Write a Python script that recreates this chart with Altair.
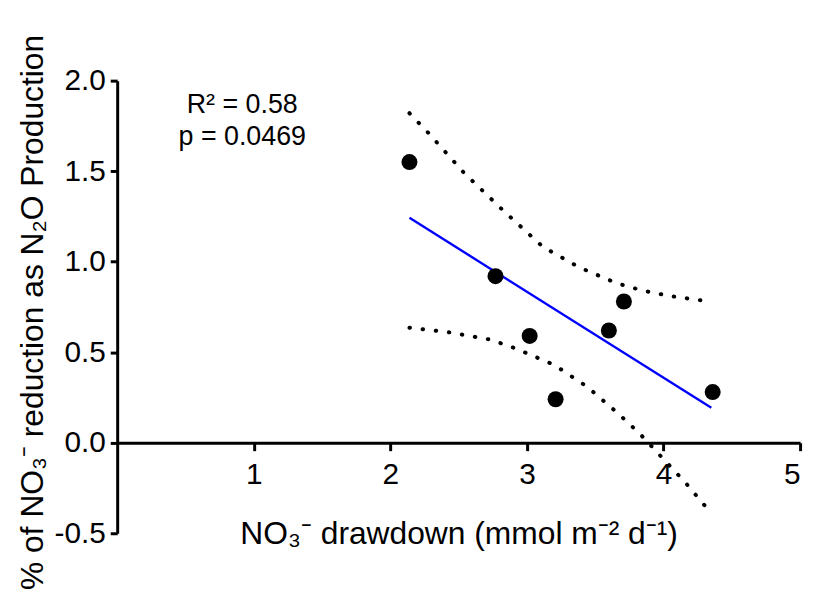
import altair as alt
import pandas as pd

# Observed points
x_vals = [2.14, 2.77, 3.02, 3.21, 3.60, 3.71, 4.36]
y_vals = [1.55, 0.92, 0.59, 0.24, 0.62, 0.78, 0.28]

# 95% confidence band
upper_x = [2.14, 2.28, 2.54, 2.83, 3.12, 3.38, 3.66, 3.85, 4.05, 4.34]
upper_y = [1.82, 1.71, 1.49, 1.28, 1.08, 0.97, 0.88, 0.84, 0.81, 0.78]
lower_x = [2.14, 2.43, 2.73, 2.92, 3.20, 3.44, 3.67, 3.82, 3.95, 4.16, 4.35]
lower_y = [0.635, 0.61, 0.57, 0.52, 0.43, 0.31, 0.16, 0.055, -0.05, -0.22, -0.39]

fit_extent = [2.14, 4.35]
annot_r2 = "R\u00b2 = 0.58"
annot_p = "p = 0.0469"
x_ticks = [1, 2, 3, 4, 5]
y_ticks = [-0.5, 0.0, 0.5, 1.0, 1.5, 2.0]

x_title = "NO\u2083\u207b drawdown (mmol m\u207b\u00b2 d\u207b\u00b9)"
y_title = "% of NO\u2083\u207b reduction as N\u2082O Production"

FONT = "Liberation Sans"
W, H = 688, 456

pts = pd.DataFrame({"x": x_vals, "y": y_vals})
up = pd.DataFrame({"x": upper_x, "y": upper_y})
lo = pd.DataFrame({"x": lower_x, "y": lower_y})

xs = alt.Scale(domain=[0, 5], nice=False, zero=False)
ys = alt.Scale(domain=[-0.5, 2.0], nice=False, zero=False)

x_axis = alt.Axis(
    values=x_ticks, format="d", title=x_title, offset=-H * 0.2,
    grid=False, domainColor="black", domainWidth=3, tickColor="black",
    tickWidth=3, tickSize=8, labelFontSize=30, labelFont=FONT,
    labelColor="black", labelPadding=9, titleFontSize=32, titleFont=FONT,
    titleFontWeight="normal", titleColor="black", titlePadding=30,
)
y_axis = alt.Axis(
    values=y_ticks, title=y_title,
    labelExpr="replace(format(datum.value, '.1f'), '\u2212', '-')",
    grid=False, domainColor="black", domainWidth=3, tickColor="black",
    tickWidth=3, tickSize=7, labelFontSize=30, labelFont=FONT,
    labelColor="black", labelPadding=5, titleFontSize=32, titleFont=FONT,
    titleFontWeight="normal", titleColor="black", titlePadding=5,
    titleY=H / 2 + 5,
)

X = alt.X("x:Q", scale=xs, axis=x_axis)
Y = alt.Y("y:Q", scale=ys, axis=y_axis)

dot_style = dict(color="black", strokeWidth=4, strokeDash=[0.5, 12.8], strokeCap="round")
upper_line = alt.Chart(up).mark_line(**dot_style).encode(x=X, y=Y)
lower_line = alt.Chart(lo).mark_line(**dot_style).encode(x=X, y=Y)

fit = alt.Chart(pts).transform_regression(
    "x", "y", extent=fit_extent
).mark_line(color="#0000ff", strokeWidth=2.4).encode(x=X, y=Y)

points = alt.Chart(pts).mark_circle(size=260, color="black", opacity=1).encode(x=X, y=Y)

one = pd.DataFrame({"a": [0]})
txt = dict(font=FONT, fontSize=27, color="black", align="center", baseline="middle")
annot1 = alt.Chart(one).mark_text(**txt).encode(
    x=alt.value(126), y=alt.value(25), text=alt.value(annot_r2))
annot2 = alt.Chart(one).mark_text(**txt).encode(
    x=alt.value(126), y=alt.value(57), text=alt.value(annot_p))

chart = alt.layer(upper_line, lower_line, fit, points, annot1, annot2).properties(
    width=W, height=H,
    autosize=alt.AutoSizeParams(type="none"),
    padding={"left": 110, "top": 71, "right": 12, "bottom": 57},
    background="white",
).configure_view(stroke=None)

chart.save("out.html", embed_options={"renderer": "svg", "actions": False})
